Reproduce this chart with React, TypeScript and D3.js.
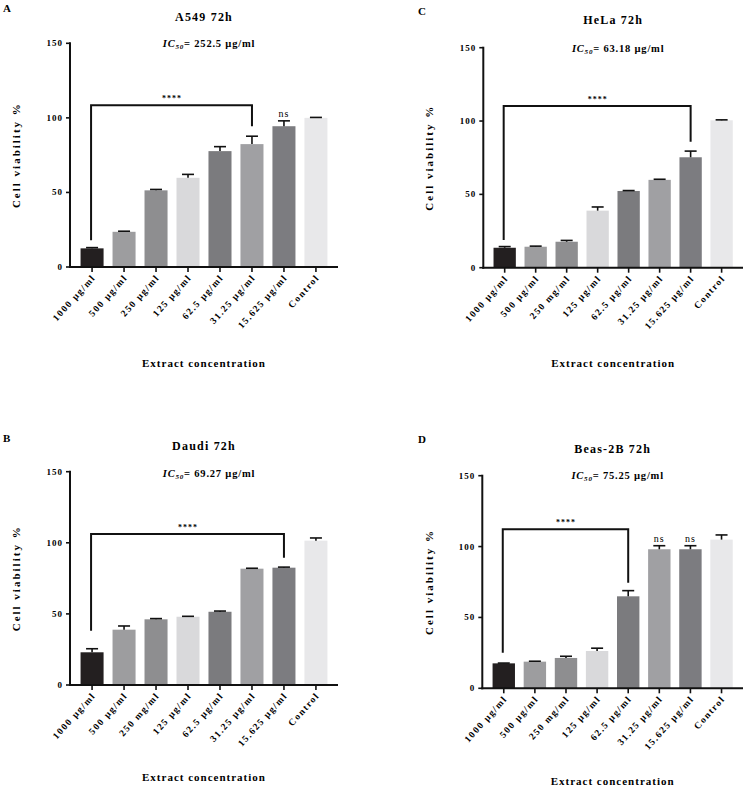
import React from "react";
import * as d3 from "d3";

const categoriesA = ["1000 µg/ml", "500 µg/ml", "250 µg/ml", "125 µg/ml", "62.5 µg/ml", "31.25 µg/ml", "15.625 µg/ml", "Control"];
const categoriesBCD = ["1000 µg/ml", "500 µg/ml", "250 mg/ml", "125 µg/ml", "62.5 µg/ml", "31.25 µg/ml", "15.625 µg/ml", "Control"];
const barColors = ["#231f20", "#9d9d9f", "#8e8e90", "#d9d9db", "#7b7b7e", "#a0a0a3", "#7c7c80", "#e8e8ea"];
const yTicks = [0, 50, 100, 150];

const valuesA = [12.5, 23.6, 51.4, 59.8, 77.7, 82.4, 94.4, 100];
const errorsA = [0.5, 0.4, 0.6, 2.3, 3.0, 5.3, 3.6, 0.3];
const valuesC = [13.6, 14.3, 17.7, 38.9, 52.3, 59.9, 75.3, 100.5];
const errorsC = [0.8, 0.4, 0.9, 2.5, 0.3, 0.4, 4.2, 0.3];
const valuesB = [23.0, 38.9, 46.2, 48.0, 51.5, 81.8, 82.5, 101.5];
const errorsB = [2.5, 2.6, 0.5, 0.3, 0.5, 0.3, 0.4, 1.9];
const valuesD = [17.6, 18.8, 21.4, 26.3, 64.9, 98.1, 98.1, 104.9];
const errorsD = [0.2, 0.3, 1.2, 2.0, 4.0, 2.5, 2.5, 3.3];

// bracket: [fromIndex, toIndex, topValue, leftLegEnd, rightLegEnd]
const bracketA = [0, 5, 108.5, 18, 94.4];
const bracketC = [0, 6, 110.2, 18.9, 85.9];
const bracketB = [0, 6, 106.2, 38.2, 89.5];
const bracketD = [0, 4, 112.2, 25.1, 74.5];

const nsA = [6];
const nsC: number[] = [];
const nsB: number[] = [];
const nsD = [5, 6];

const titles = ["A549 72h", "HeLa 72h", "Daudi 72h", "Beas-2B 72h"];
const ic50s = ["252.5", "63.18", "69.27", "75.25"];
const panelLetters = ["A", "C", "B", "D"];

const FONT = "'Liberation Serif', 'Times New Roman', serif";

type Layout = {
  axisX: number; xEnd: number; y0: number; y150: number;
  titleY: number; icY: number; letterX: number; letterY: number;
  yLabelX: number; xTitleY: number;
};

const layouts: Layout[] = [
  { axisX: 70, xEnd: 338, y0: 267, y150: 43.3, titleY: 21, icY: 47, letterX: 3, letterY: 12, yLabelX: 20, xTitleY: 367 },
  { axisX: 483.3, xEnd: 743, y0: 267.7, y150: 47.7, titleY: 24, icY: 52, letterX: 418, letterY: 15, yLabelX: 433, xTitleY: 367 },
  { axisX: 70, xEnd: 338, y0: 685, y150: 471.7, titleY: 450, icY: 477, letterX: 3, letterY: 442, yLabelX: 20, xTitleY: 781 },
  { axisX: 482.3, xEnd: 743, y0: 688.3, y150: 475.7, titleY: 453, icY: 479, letterX: 418, letterY: 443, yLabelX: 433, xTitleY: 785 },
];

function Panel(props: {
  layout: Layout; categories: string[]; values: number[]; errors: number[];
  bracket: number[]; ns: number[]; title: string; ic50: string; letter: string;
}) {
  const { layout: L, categories, values, errors, bracket, ns, title, ic50, letter } = props;
  const x = d3.scaleBand<string>().domain(categories).range([L.axisX, L.xEnd]).paddingInner(0.28).paddingOuter(0.33);
  const y = d3.scaleLinear().domain([0, 150]).range([L.y0, L.y150]);
  const bw = x.bandwidth();
  const cx = (i: number) => (x(categories[i]) as number) + bw / 2;
  const midX = (L.axisX + L.xEnd) / 2;
  const [bi, bj, bTop, bL, bR] = bracket;
  const capW = 12;
  return (
    <g fontFamily={FONT}>
      <text x={L.letterX} y={L.letterY} fontSize={11} fontWeight="bold">{letter}</text>
      <text x={midX} y={L.titleY} fontSize={12} fontWeight="bold" textAnchor="middle" letterSpacing={1.2}>{title}</text>
      <text x={midX + 5} y={L.icY} fontSize={10.5} fontWeight="bold" textAnchor="middle" letterSpacing={0.8}>
        <tspan fontStyle="italic">IC</tspan>
        <tspan fontStyle="italic" fontSize={7} dy={2}>50</tspan>
        <tspan dy={-2}>= {ic50} µg/ml</tspan>
      </text>
      {values.map((v, i) => (
        <rect key={"b" + i} x={x(categories[i])} y={y(v)} width={bw} height={L.y0 - y(v)} fill={barColors[i]} />
      ))}
      {values.map((v, i) => (
        <g key={"e" + i} stroke="#111" strokeWidth={1.6}>
          <line x1={cx(i)} x2={cx(i)} y1={y(v)} y2={y(v + errors[i])} />
          <line x1={cx(i) - capW / 2} x2={cx(i) + capW / 2} y1={y(v + errors[i])} y2={y(v + errors[i])} />
        </g>
      ))}
      {/* y axis */}
      <line x1={L.axisX} x2={L.axisX} y1={L.y150 - 1} y2={L.y0 + 1} stroke="#111" strokeWidth={2} />
      {yTicks.map((t) => (
        <g key={"yt" + t}>
          <line x1={L.axisX - 4} x2={L.axisX} y1={y(t)} y2={y(t)} stroke="#111" strokeWidth={1.6} />
          <text x={L.axisX - 7} y={y(t) + 3} fontSize={9} fontWeight="bold" textAnchor="end" letterSpacing={1}>{t}</text>
        </g>
      ))}
      {/* x axis */}
      <line x1={L.axisX - 1} x2={L.xEnd} y1={L.y0} y2={L.y0} stroke="#111" strokeWidth={2} />
      {categories.map((c, i) => (
        <g key={"xt" + i}>
          <line x1={cx(i)} x2={cx(i)} y1={L.y0} y2={L.y0 + 5} stroke="#111" strokeWidth={1.6} />
          <text transform={`translate(${cx(i) + 4},${L.y0 + 11}) rotate(-48)`} fontSize={9.5} fontWeight="bold" textAnchor="end" letterSpacing={1.4}>{c}</text>
        </g>
      ))}
      <text transform={`translate(${L.yLabelX},${(L.y0 + L.y150) / 2}) rotate(-90)`} fontSize={11} fontWeight="bold" textAnchor="middle" letterSpacing={2}>Cell viability %</text>
      <text x={midX} y={L.xTitleY} fontSize={11} fontWeight="bold" textAnchor="middle" letterSpacing={1}>Extract concentration</text>
      {/* bracket */}
      <path d={`M${cx(bi) - 1},${y(bL)} V${y(bTop)} H${cx(bj)} V${y(bR)}`} fill="none" stroke="#111" strokeWidth={2} />
      <text x={(cx(bi) + cx(bj)) / 2} y={y(bTop) - 4} fontSize={8} fontWeight="bold" textAnchor="middle" letterSpacing={1}>****</text>
      {ns.map((i) => (
        <text key={"ns" + i} x={cx(i)} y={y(values[i] + errors[i]) - 4} fontSize={10} textAnchor="middle" letterSpacing={1}>ns</text>
      ))}
    </g>
  );
}

export default function App() {
  const cats = [categoriesA, categoriesBCD, categoriesBCD, categoriesBCD];
  const vals = [valuesA, valuesC, valuesB, valuesD];
  const errs = [errorsA, errorsC, errorsB, errorsD];
  const brs = [bracketA, bracketC, bracketB, bracketD];
  const nss = [nsA, nsC, nsB, nsD];
  return (
    <svg width={750} height={793} style={{ position: "absolute", left: 0, top: 0, background: "#fff" }}>
      <rect width={750} height={793} fill="#fff" />
      {layouts.map((L, k) => (
        <Panel key={k} layout={L} categories={cats[k]} values={vals[k]} errors={errs[k]} bracket={brs[k]} ns={nss[k]} title={titles[k]} ic50={ic50s[k]} letter={panelLetters[k]} />
      ))}
    </svg>
  );
}
